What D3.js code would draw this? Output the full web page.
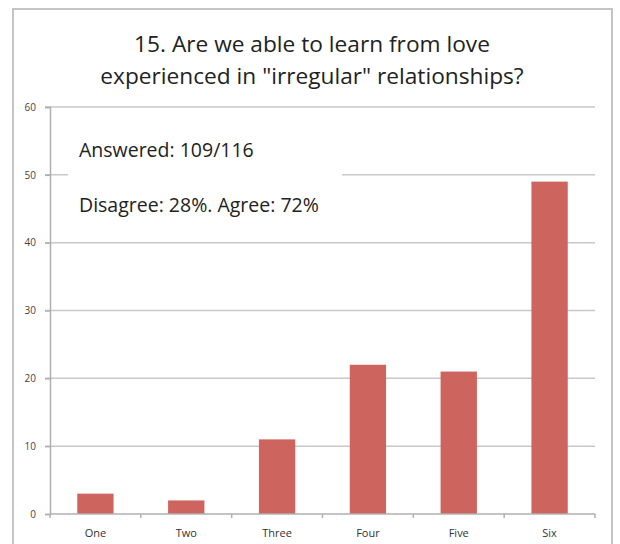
<!DOCTYPE html>
<html>
<head>
<meta charset="utf-8">
<script src="https://cdn.jsdelivr.net/npm/d3@7"></script>
<style>
  body { margin: 0; background: #fff; }
  text { font-family: "Open Sans", Lato, sans-serif; }
</style>
</head>
<body>
<script>
// Chart data.
var categories = ["One", "Two", "Three", "Four", "Five", "Six"],
    counts     = [3, 2, 11, 22, 21, 49],
    yTicks     = [0, 10, 20, 30, 40, 50, 60];

var titleLines = ["15. Are we able to learn from love",
                  "experienced in \"irregular\" relationships?"],
    notes      = ["Answered: 109/116", "Disagree: 28%. Agree: 72%"];

// Canvas.
var width      = 620,
    height     = 544,
    plotLeft   = 50,
    plotRight  = 595,
    plotTop    = 107,
    plotBottom = 514;

var svg = d3.select("body")
    .append("svg")
    .attr("width", width)
    .attr("height", height);

// Outer frame.
svg.append("rect")
    .attr("x", 13).attr("y", 9)
    .attr("width", 599).attr("height", 560)
    .attr("fill", "none")
    .attr("stroke", "#c4c4c4")
    .attr("stroke-width", 2);

// Scales.
var x = d3.scaleBand()
    .domain(categories)
    .range([plotLeft, plotRight])
    .paddingInner(0.6)
    .paddingOuter(0.3);

var y = d3.scaleLinear()
    .domain([0, 60])
    .range([plotBottom, plotTop]);

// Gridlines.
svg.selectAll("line.grid")
    .data(yTicks.filter(function(d) { return d > 0; }))
  .enter()
    .append("line")
    .attr("class", "grid")
    .attr("x1", plotLeft - 5)
    .attr("x2", plotRight)
    .attr("y1", function(d) { return y(d); })
    .attr("y2", function(d) { return y(d); })
    .attr("stroke", "#c8c8c8")
    .attr("stroke-width", 1.5);

// Y axis.
var yAxis = svg.append("g")
    .attr("transform", "translate(" + plotLeft + ",0)")
    .call(d3.axisLeft(y).tickValues(yTicks).tickSize(5).tickPadding(9));

yAxis.select(".domain").attr("stroke", "#b0b0b0").attr("stroke-width", 1.5);
yAxis.selectAll(".tick line").attr("stroke", "#b0b0b0").attr("stroke-width", 1.5);
yAxis.selectAll(".tick text")
    .attr("fill", "#444")
    .attr("font-size", "10px")
    .attr("font-family", "\"Open Sans\", sans-serif");

// Bars.
svg.selectAll("rect.bar")
    .data(counts)
  .enter()
    .append("rect")
    .attr("class", "bar")
    .attr("x", function(d, i) { return x(categories[i]); })
    .attr("y", function(d) { return y(d); })
    .attr("width", x.bandwidth())
    .attr("height", function(d) { return y(0) - y(d); })
    .attr("fill", "#cd655e");

// X axis: ticks sit on category boundaries.
var step = x.step();
var boundaries = d3.range(categories.length + 1).map(function(i) {
    return plotLeft + i * step;
});

svg.append("line")
    .attr("x1", plotLeft).attr("x2", plotRight)
    .attr("y1", plotBottom).attr("y2", plotBottom)
    .attr("stroke", "#b0b0b0")
    .attr("stroke-width", 1.5);

svg.selectAll("line.xtick")
    .data(boundaries)
  .enter()
    .append("line")
    .attr("class", "xtick")
    .attr("x1", function(d) { return d; })
    .attr("x2", function(d) { return d; })
    .attr("y1", plotBottom)
    .attr("y2", plotBottom + 4)
    .attr("stroke", "#b0b0b0")
    .attr("stroke-width", 1.5);

svg.selectAll("text.xlabel")
    .data(categories)
  .enter()
    .append("text")
    .attr("class", "xlabel")
    .attr("x", function(d) { return x(d) + x.bandwidth() / 2; })
    .attr("y", 537)
    .attr("text-anchor", "middle")
    .attr("font-size", "11px")
    .attr("fill", "#333")
    .text(function(d) { return d; });

// Title.
svg.selectAll("text.title")
    .data(titleLines)
  .enter()
    .append("text")
    .attr("class", "title")
    .attr("x", 312)
    .attr("y", function(d, i) { return 52 + i * 32; })
    .attr("text-anchor", "middle")
    .attr("font-size", "22.7px")
    .attr("fill", "#222")
    .text(function(d) { return d; });

// Annotation box covers the gridline behind it.
svg.append("rect")
    .attr("x", 68).attr("y", 130)
    .attr("width", 274).attr("height", 95)
    .attr("fill", "#fff");

svg.selectAll("text.note")
    .data(notes)
  .enter()
    .append("text")
    .attr("class", "note")
    .attr("x", 79)
    .attr("y", function(d, i) { return 157 + i * 55; })
    .attr("font-size", "19.5px")
    .attr("fill", "#222")
    .text(function(d) { return d; });
</script>
</body>
</html>
